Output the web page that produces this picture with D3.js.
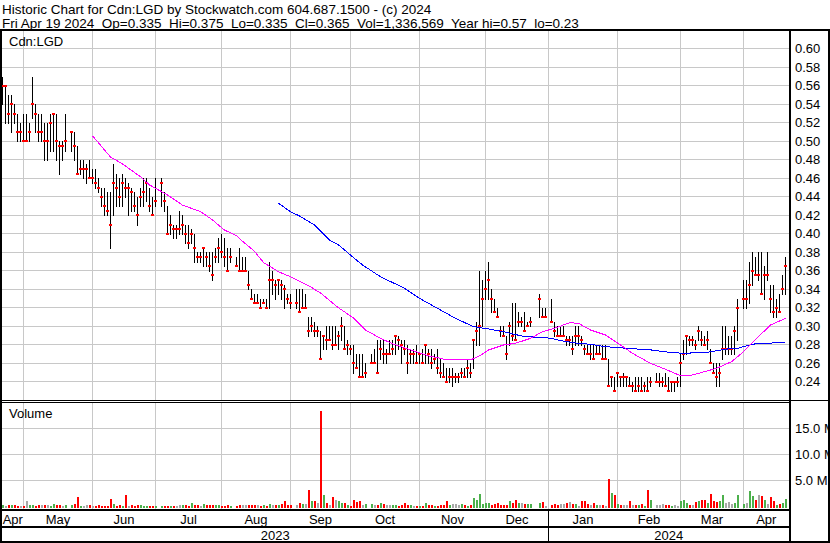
<!DOCTYPE html>
<html><head><meta charset="utf-8">
<script src="https://cdn.jsdelivr.net/npm/d3@7"></script>
<style>
html,body{margin:0;padding:0;background:#fff;}
svg{display:block;font-family:"Liberation Sans",Arial,sans-serif;}
</style></head><body>
<svg id="chart" width="830" height="543"></svg>
<script>
// ---------------- data ----------------
const titleLine = "Historic Chart for Cdn:LGD by Stockwatch.com 604.687.1500 - (c) 2024";
const quoteLine = "Fri Apr 19 2024  Op=0.335  Hi=0.375  Lo=0.335  Cl=0.365  Vol=1,336,569  Year hi=0.57  lo=0.23";
const symbol = "Cdn:LGD";
const firstDay = "2023-04-20", lastDay = "2024-04-19";
const holidays = ["2023-05-22","2023-07-03","2023-08-07","2023-09-04","2023-10-09",
  "2023-12-25","2023-12-26","2024-01-01","2024-02-19","2024-03-29"];

const high = [
 .57,.56,.55,.55,.54,.53,.52,
 .53,.53,.52,.57,.54,.53,.53,.52,.52,.53,.53,.53,.50,.50,.53,.51,.51,.495,.48,.48,.475,.48,
 .47,.47,.46,.45,.45,.445,.445,.475,.465,.46,.465,.46,.455,.45,.445,.44,.45,.46,.46,.45,.44,.46,
 .46,.445,.43,.42,.41,.41,.425,.42,.41,.41,.405,.40,.38,.38,.385,.38,.38,.38,.385,.395,
 .40,.395,.385,.385,.375,.385,.375,.375,.36,.34,.335,.335,.33,.33,.33,.37,.36,.35,.35,.35,.345,.335,
 .335,.34,.34,.34,.335,.31,.31,.305,.30,.295,.29,.30,.30,.30,.30,.295,.31,.30,.285,.28,
 .28,.27,.27,.27,.26,.27,.275,.285,.285,.285,.275,.285,.285,.29,.29,.285,.285,.28,.275,.275,.28,
 .27,.275,.28,.275,.275,.27,.275,.265,.26,.255,.255,.255,.25,.25,.255,.255,.265,.26,.285,.305,.36,.35,
 .36,.37,.34,.33,.32,.30,.30,.29,.305,.325,.325,.315,.31,.315,.305,.31,.335,.32,.32,
 .33,.305,.30,.30,.30,.29,.29,.29,.30,.30,.29,.28,.28,.28,.28,.28,.28,.28,.28,.265,.245,.245,
 .25,.245,.25,.245,.245,.24,.245,.245,.245,.24,.245,.245,.25,.25,.245,.25,.245,.24,.24,.245,
 .27,.285,.29,.29,.29,.285,.30,.295,.29,.295,.275,.26,.26,.26,.30,.30,.29,.29,.30,.33,
 .35,.35,.37,.38,.375,.38,.38,.365,.38,.345,.345,.33,.335,.355,.375
];
const low = [
 .54,.52,.52,.51,.52,.50,.50,
 .50,.50,.50,.525,.51,.50,.50,.48,.48,.49,.49,.48,.465,.48,.49,.49,.48,.465,.465,.46,.455,.46,
 .455,.45,.445,.43,.42,.42,.385,.42,.43,.43,.43,.44,.42,.425,.425,.41,.43,.43,.435,.425,.42,.43,
 .43,.425,.40,.40,.395,.395,.40,.40,.39,.385,.39,.37,.37,.37,.365,.365,.36,.35,.37,.37,
 .375,.365,.36,.37,.365,.36,.36,.36,.34,.33,.325,.325,.32,.325,.32,.32,.335,.33,.335,.33,.32,.325,
 .32,.32,.315,.32,.32,.29,.295,.29,.29,.265,.275,.275,.285,.275,.28,.275,.285,.275,.27,.27,
 .25,.255,.245,.245,.245,.26,.26,.25,.265,.26,.26,.27,.27,.27,.275,.26,.27,.25,.26,.26,.26,
 .26,.26,.26,.26,.255,.26,.25,.245,.245,.24,.24,.235,.24,.24,.245,.245,.245,.245,.255,.28,.28,.30,
 .33,.33,.315,.315,.31,.29,.29,.265,.28,.285,.285,.30,.30,.295,.30,.30,.31,.31,.31,
 .305,.29,.29,.29,.29,.28,.28,.27,.28,.28,.28,.27,.27,.265,.265,.27,.27,.265,.265,.235,.235,.23,
 .235,.235,.235,.235,.235,.23,.23,.23,.23,.23,.23,.235,.24,.235,.235,.235,.23,.23,.23,.235,
 .235,.265,.27,.28,.28,.275,.285,.28,.28,.275,.26,.25,.235,.235,.265,.27,.27,.27,.27,.285,
 .32,.32,.325,.345,.355,.35,.335,.33,.35,.315,.31,.31,.315,.335,.335
];
const close = [
 .56,.56,.53,.54,.53,.51,.51,
 .50,.50,.51,.54,.53,.51,.51,.50,.50,.52,.53,.50,.495,.495,.50,.51,.495,.465,.47,.47,.47,.46,
 .46,.455,.45,.44,.43,.425,.41,.455,.45,.44,.455,.45,.45,.445,.43,.42,.44,.445,.455,.43,.42,.435,
 .455,.435,.40,.41,.405,.405,.405,.41,.40,.39,.40,.385,.375,.375,.385,.375,.365,.355,.375,.385,
 .38,.375,.36,.375,.365,.36,.36,.36,.345,.33,.325,.325,.32,.325,.32,.35,.35,.345,.35,.345,.34,.33,
 .325,.325,.315,.32,.32,.295,.30,.295,.295,.265,.29,.285,.285,.28,.28,.29,.30,.275,.28,.275,
 .26,.255,.245,.245,.25,.26,.26,.25,.275,.27,.27,.27,.275,.29,.285,.28,.275,.26,.27,.27,.26,
 .27,.26,.28,.27,.26,.265,.255,.25,.245,.24,.245,.245,.245,.245,.25,.245,.255,.25,.285,.295,.30,.33,
 .34,.35,.33,.315,.31,.295,.29,.27,.30,.29,.285,.305,.305,.295,.30,.305,.33,.31,.31,
 .305,.295,.29,.29,.29,.285,.285,.275,.29,.29,.285,.275,.27,.27,.265,.27,.27,.265,.265,.235,.245,.23,
 .25,.245,.245,.245,.235,.235,.23,.235,.23,.235,.23,.24,.24,.24,.24,.235,.23,.24,.24,.24,
 .26,.27,.29,.285,.285,.28,.295,.285,.28,.285,.26,.25,.245,.25,.275,.275,.275,.275,.295,.32,
 .33,.33,.345,.36,.355,.355,.335,.355,.355,.33,.315,.32,.315,.34,.365
];
// millions of shares
const volume = [
 .2,.15,.2,.2,.2,.1,.15,
 .1,1.0,.2,.3,.1,.2,.2,.3,.3,.1,.5,.2,.3,.1,.2,.3,.5,1.7,.1,.1,.2,.3,
 .1,.1,.3,.1,.1,.1,1.5,.5,.1,.2,.1,2.1,.1,.3,.1,.2,.2,.08,.08,.08,.08,.08,
 .08,.08,.08,.08,.08,.08,.2,.2,.2,.1,.7,.3,.3,.1,.5,.2,.2,.3,.2,.3,
 .1,.1,.2,.1,.1,.2,.2,.2,.3,.3,.2,.3,.1,.2,.1,.5,.2,.3,.2,.5,1.0,.3,
 .2,.2,.7,.5,.5,3.1,1.0,1.0,.7,18.3,2.2,.7,.2,1.7,1.2,1.0,.7,.7,.2,.1,
 1.3,.8,1.0,.3,.5,.5,.3,.3,.7,.5,.3,.3,.3,.2,.1,.3,.7,.3,.2,.1,.1,
 .1,.1,.7,.2,.2,.1,.1,.2,.3,1.0,.3,.5,.5,.3,.5,.2,.1,.2,1.6,1.2,2.4,.5,
 .7,.7,.3,.5,.7,.3,.3,.3,1.0,.7,1.3,.7,.7,.5,.5,.5,.7,.8,.1,
 .3,.5,.3,.5,.5,.7,.8,.5,.5,.1,1.0,1.0,.5,.3,.7,.2,.2,.2,.1,5.3,2.6,2.1,
 .5,.2,.3,.3,1.0,.3,.3,.3,.5,.1,3.2,1.2,.3,.3,.5,.3,.3,.1,.2,.1,
 1.0,1.2,.7,.3,.2,.8,1.0,1.2,1.2,.7,2.4,1.0,.8,1.0,2.2,.7,.8,.5,.7,2.2,
 .5,.7,2.9,1.9,1.2,2.2,1.9,1.2,.5,1.7,1.0,.3,.5,.7,1.34
];

const ma30Dates = ["2023-06-01","2023-06-09","2023-06-15","2023-06-23","2023-06-28","2023-07-06","2023-07-13",
 "2023-07-21","2023-07-27","2023-08-02","2023-08-08","2023-08-10","2023-08-16","2023-08-21","2023-08-23",
 "2023-08-28","2023-09-01","2023-09-12","2023-09-15","2023-09-25","2023-10-02","2023-10-06","2023-10-13",
 "2023-10-20","2023-10-30","2023-11-06","2023-11-13","2023-11-17","2023-11-24","2023-11-29","2023-12-04",
 "2023-12-11","2023-12-15","2023-12-22","2023-12-28","2024-01-03","2024-01-10","2024-01-15","2024-01-19",
 "2024-01-26","2024-02-02","2024-02-08","2024-02-16","2024-02-23","2024-03-01","2024-03-06","2024-03-13",
 "2024-03-19","2024-03-26","2024-04-01","2024-04-08","2024-04-12","2024-04-19"];
const ma30 = [.506,.483,.4755,.4617,.4528,.442,.431,.424,.415,.404,.398,.392,.381,.369,.365,
 .359,.3536,.342,.336,.320,.309,.296,.287,.2798,.2736,.268,.2646,.2643,.2636,.268,.2744,
 .2798,.2816,.287,.2942,.2978,.3039,.3032,.296,.2906,.2798,.2708,.26,.2535,.2466,.2466,.2509,
 .2546,.2617,.2725,.2888,.3014,.3086];

const ma90Dates = ["2023-08-28","2023-09-01","2023-09-06","2023-09-13","2023-09-20","2023-09-25","2023-09-29",
 "2023-10-05","2023-10-13","2023-10-25","2023-11-01","2023-11-09","2023-11-17","2023-11-27","2023-12-04",
 "2023-12-11","2023-12-20","2023-12-27","2024-01-02","2024-01-04","2024-01-11","2024-01-19","2024-01-26",
 "2024-02-06","2024-02-16","2024-02-27","2024-03-04","2024-03-14","2024-03-22","2024-03-28","2024-04-04",
 "2024-04-08","2024-04-19"];
const ma90 = [.433,.4239,.4193,.4095,.3933,.388,.377,.3663,.3536,.3411,.3303,.3194,.3086,.2996,.2971,
 .2942,.2888,.2881,.287,.2852,.2823,.2805,.278,.2762,.2745,.2716,.2708,.2719,.2753,.2762,.2805,
 .2816,.2823];

const priceTicks = [0.24,0.26,0.28,0.30,0.32,0.34,0.36,0.38,0.40,0.42,0.44,0.46,0.48,0.50,0.52,0.54,0.56,0.58,0.60];
const volumeTicks = [5,10,15];
const monthGridDates = ["2023-05-01","2023-06-01","2023-06-30","2023-08-01","2023-09-01","2023-09-29",
 "2023-11-01","2023-12-01","2024-01-01","2024-02-01","2024-03-01","2024-04-01"];
const monthNames = ["Apr","May","Jun","Jul","Aug","Sep","Oct","Nov","Dec","Jan","Feb","Mar","Apr"];
const yearNames = ["2023","2024"];
const yearStartDates = ["2024-01-01"];

// ---------------- layout ----------------
const W = 830, H = 543;
const plotR = 789;
const priceTop = 31, priceBot = 400;
const volTop = 403, volBot = 509;
const gridColor = "#c8c8c8";
const upColor = "#4cb04c", downColor = "#ff0000", flatColor = "#a8a8a8";

const parse = d3.timeParse("%Y-%m-%d"), fmt = d3.timeFormat("%Y-%m-%d");
const weekdays = d3.timeDay.range(parse(firstDay), d3.timeDay.offset(parse(lastDay), 1))
  .filter(d => d.getDay() > 0 && d.getDay() < 6).map(fmt);
const tradingDays = weekdays.filter(d => !holidays.includes(d));

const x = d3.scaleBand().domain(weekdays).range([1, 787]);
const cx = d => x(d) + x.bandwidth() / 2;
const y = d3.scaleLinear().domain([0.22, 0.62]).range([400.3, 30.3]);
const yv = d3.scaleLinear().domain([0, 20]).range([506.3, 402.3]);
const crisp = v => Math.floor(v) + 0.5;

const svg = d3.select("#chart");
svg.append("rect").attr("width", W).attr("height", H).attr("fill", "#fff");

// header
svg.append("text").attr("x", 2).attr("y", 13.5).attr("font-size", 13.5)
  .style("white-space","pre").text(titleLine);
svg.append("text").attr("x", 2).attr("y", 27.5).attr("font-size", 13.5)
  .style("white-space","pre").text(quoteLine);

// grid
const grid = svg.append("g").attr("stroke", gridColor).attr("stroke-width", 1).attr("shape-rendering","crispEdges");
grid.selectAll("line.hp").data(priceTicks).join("line")
  .attr("x1", 2).attr("x2", plotR).attr("y1", d => crisp(y(d))).attr("y2", d => crisp(y(d)));
grid.selectAll("line.hv").data(volumeTicks).join("line").attr("class","hv")
  .attr("x1", 2).attr("x2", plotR).attr("y1", d => crisp(yv(d))).attr("y2", d => crisp(yv(d)));
grid.selectAll("line.vp").data(monthGridDates).join("line").attr("class","vp")
  .attr("x1", d => cx(d)).attr("x2", d => cx(d)).attr("y1", priceTop).attr("y2", priceBot);
grid.selectAll("line.vv").data(monthGridDates).join("line").attr("class","vv")
  .attr("x1", d => cx(d)).attr("x2", d => cx(d)).attr("y1", volTop).attr("y2", volBot);

// labels in panels
svg.append("text").attr("x", 9).attr("y", 45.5).attr("font-size", 13).text(symbol);
svg.append("text").attr("x", 9).attr("y", 417.5).attr("font-size", 13).text("Volume");

// volume bars
const volG = svg.append("g").attr("shape-rendering","crispEdges");
volG.selectAll("rect").data(tradingDays).join("rect")
  .attr("x", d => cx(d) - 1).attr("width", 2)
  .attr("y", (d, i) => yv(volume[i]))
  .attr("height", (d, i) => 508 - yv(volume[i]))
  .attr("fill", (d, i) => i === 0 ? upColor : close[i] > close[i-1] ? upColor : close[i] < close[i-1] ? downColor : flatColor);

// price bars
svg.append("clipPath").attr("id","pclip").append("rect")
  .attr("x", 2).attr("y", priceTop).attr("width", plotR - 2).attr("height", priceBot - priceTop);
const barG = svg.append("g").attr("clip-path","url(#pclip)").attr("shape-rendering","crispEdges");
barG.selectAll("line").data(tradingDays).join("line")
  .attr("x1", d => cx(d)).attr("x2", d => cx(d))
  .attr("y1", (d, i) => Math.round(y(high[i]))).attr("y2", (d, i) => Math.round(y(low[i])) + 1)
  .attr("stroke", "#000").attr("stroke-width", 1);
barG.selectAll("rect").data(tradingDays).join("rect")
  .attr("x", d => cx(d) - 1.5).attr("width", 3)
  .attr("y", (d, i) => Math.round(y(close[i])) - 1).attr("height", 2)
  .attr("fill", "#ff0000");

// moving averages
const line = d3.line().x(d => cx(d[0])).y(d => y(d[1]));
barG.append("path").datum(ma90Dates.map((d, i) => [d, ma90[i]]))
  .attr("d", line).attr("fill","none").attr("stroke","#0000ff").attr("stroke-width",1);
barG.append("path").datum(ma30Dates.map((d, i) => [d, ma30[i]]))
  .attr("d", line).attr("fill","none").attr("stroke","#ff00ff").attr("stroke-width",1);

// axis labels right
svg.append("g").attr("font-size", 13).selectAll("text").data(priceTicks).join("text")
  .attr("x", 795).attr("y", d => y(d) + 4.5).text(d => d3.format(".2f")(d));
svg.append("g").attr("font-size", 13).selectAll("text").data(volumeTicks).join("text")
  .attr("x", 795).attr("y", d => yv(d) + 4.5).text(d => d3.format(".1f")(d) + " M");

// month / year labels
const bounds = [firstDay, ...monthGridDates, lastDay];
const edge = (d, j) => j === 0 ? 2 : j === bounds.length - 1 ? plotR : cx(d);
svg.append("g").attr("font-size", 13).attr("text-anchor","middle").selectAll("text").data(monthNames).join("text")
  .attr("x", (d, i) => (edge(bounds[i], i) + edge(bounds[i+1], i+1)) / 2)
  .attr("y", 523.5).text(d => d);
const yBounds = [2, ...yearStartDates.map(cx), plotR];
svg.append("g").attr("font-size", 13).attr("text-anchor","middle").selectAll("text").data(yearNames).join("text")
  .attr("x", (d, i) => (yBounds[i] + yBounds[i+1]) / 2).attr("y", 539.5).text(d => d);

// frame lines
const frame = svg.append("g").attr("fill","#000").attr("shape-rendering","crispEdges");
const R = (a,b,c,d) => frame.append("rect").attr("x",a).attr("y",b).attr("width",c).attr("height",d);
R(0, 29, W, 2);            // top
R(0, 29, 2, H - 29);       // left
R(plotR, 29, 2, H - 29);   // axis
R(828, 29, 2, H - 29);     // right
R(0, 400, W, 1);           // panel separator
R(0, 402, plotR, 1);
R(0, 509, plotR + 2, 2);   // volume bottom
R(0, 526, plotR + 2, 2);   // between months / years
R(0, 541, W, 2);           // bottom
yearStartDates.forEach(d => R(Math.floor(cx(d)), 509, 1, 33));
</script>
</body></html>
